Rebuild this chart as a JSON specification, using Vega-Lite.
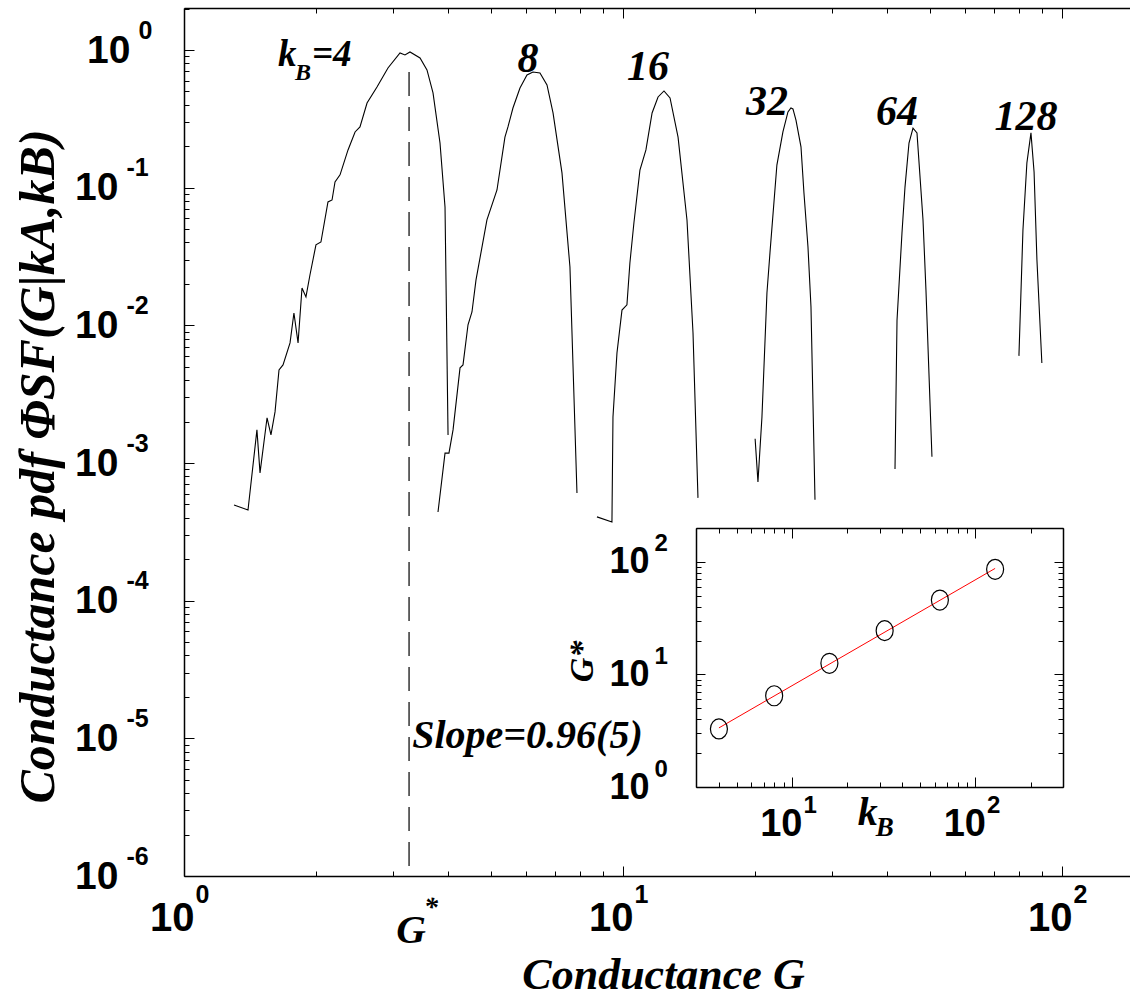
{
  "$schema": "https://vega.github.io/schema/vega-lite/v6.json",
  "width": 946,
  "height": 868,
  "autosize": {"type": "none"},
  "padding": {"left": 184, "top": 8, "right": 0, "bottom": 124},
  "background": "white",
  "config": {"view": {"stroke": null}, "axis": {"grid": false}},
  "layer": [
    {
      "resolve": {"axis": {"x": "independent", "y": "independent"}},
      "layer": [
        {
          "data": {"values": [
            {"k":4,"G":1.300,"P":0.000496},{"k":4,"G":1.399,"P":0.000456},{"k":4,"G":1.466,"P":0.00174},{"k":4,"G":1.490,"P":0.000848},
            {"k":4,"G":1.546,"P":0.00213},{"k":4,"G":1.578,"P":0.00160},{"k":4,"G":1.612,"P":0.00235},{"k":4,"G":1.646,"P":0.00474},
            {"k":4,"G":1.681,"P":0.00516},{"k":4,"G":1.744,"P":0.00745},{"k":4,"G":1.780,"P":0.0123},{"k":4,"G":1.819,"P":0.00745},
            {"k":4,"G":1.857,"P":0.0187},{"k":4,"G":1.896,"P":0.0161},{"k":4,"G":1.936,"P":0.0232},{"k":4,"G":1.998,"P":0.0384},
            {"k":4,"G":2.051,"P":0.0403},{"k":4,"G":2.128,"P":0.0787},{"k":4,"G":2.174,"P":0.0814},{"k":4,"G":2.208,"P":0.110},
            {"k":4,"G":2.267,"P":0.124},{"k":4,"G":2.364,"P":0.188},{"k":4,"G":2.453,"P":0.254},{"k":4,"G":2.517,"P":0.276},
            {"k":4,"G":2.612,"P":0.412},{"k":4,"G":2.752,"P":0.539},{"k":4,"G":2.915,"P":0.740},{"k":4,"G":3.105,"P":0.951},
            {"k":4,"G":3.187,"P":0.920},{"k":4,"G":3.272,"P":0.967},{"k":4,"G":3.449,"P":0.875},{"k":4,"G":3.577,"P":0.716},
            {"k":4,"G":3.692,"P":0.488},{"k":4,"G":3.830,"P":0.211},{"k":4,"G":3.932,"P":0.0724},{"k":4,"G":3.995,"P":0.00160},
            {"k":8,"G":3.790,"P":0.000441},{"k":8,"G":3.932,"P":0.00118},{"k":8,"G":4.014,"P":0.00118},{"k":8,"G":4.101,"P":0.00174},
            {"k":8,"G":4.254,"P":0.00491},{"k":8,"G":4.321,"P":0.00516},{"k":8,"G":4.436,"P":0.0101},{"k":8,"G":4.529,"P":0.0125},
            {"k":8,"G":4.626,"P":0.0214},{"k":8,"G":4.899,"P":0.0583},{"k":8,"G":5.164,"P":0.0962},{"k":8,"G":5.384,"P":0.233},
            {"k":8,"G":5.470,"P":0.276},{"k":8,"G":5.615,"P":0.379},{"k":8,"G":5.826,"P":0.530},{"k":8,"G":6.044,"P":0.658},
            {"k":8,"G":6.237,"P":0.692},{"k":8,"G":6.470,"P":0.681},{"k":8,"G":6.713,"P":0.557},{"k":8,"G":6.929,"P":0.349},
            {"k":8,"G":7.262,"P":0.128},{"k":8,"G":7.572,"P":0.0265},{"k":8,"G":7.856,"P":0.000606},
            {"k":16,"G":8.724,"P":0.000406},{"k":16,"G":9.438,"P":0.000373},{"k":16,"G":9.489,"P":0.00216},{"k":16,"G":9.690,"P":0.00630},
            {"k":16,"G":9.948,"P":0.0129},{"k":16,"G":10.21,"P":0.0141},{"k":16,"G":10.37,"P":0.0284},{"k":16,"G":10.59,"P":0.0554},
            {"k":16,"G":10.93,"P":0.134},{"k":16,"G":11.28,"P":0.188},{"k":16,"G":11.65,"P":0.349},{"k":16,"G":12.02,"P":0.456},
            {"k":16,"G":12.40,"P":0.504},{"k":16,"G":12.80,"P":0.448},{"k":16,"G":13.35,"P":0.233},{"k":16,"G":13.99,"P":0.0583},
            {"k":16,"G":14.44,"P":0.00881},{"k":16,"G":14.82,"P":0.000558},
            {"k":32,"G":20.00,"P":0.00150},{"k":32,"G":20.30,"P":0.000729},{"k":32,"G":20.73,"P":0.00216},{"k":32,"G":21.28,"P":0.0172},
            {"k":32,"G":21.62,"P":0.0336},{"k":32,"G":22.42,"P":0.146},{"k":32,"G":23.14,"P":0.254},{"k":32,"G":23.76,"P":0.355},
            {"k":32,"G":24.13,"P":0.379},{"k":32,"G":24.39,"P":0.373},{"k":32,"G":24.78,"P":0.310},{"k":32,"G":25.44,"P":0.198},
            {"k":32,"G":25.84,"P":0.0915},{"k":32,"G":26.39,"P":0.0371},{"k":32,"G":26.81,"P":0.0136},{"k":32,"G":27.38,"P":0.000540},
            {"k":64,"G":41.66,"P":0.000906},{"k":64,"G":42.10,"P":0.0109},{"k":64,"G":43.21,"P":0.0469},{"k":64,"G":43.90,"P":0.101},
            {"k":64,"G":44.83,"P":0.211},{"k":64,"G":45.78,"P":0.271},{"k":64,"G":46.75,"P":0.250},{"k":64,"G":48.25,"P":0.0583},
            {"k":64,"G":49.00,"P":0.0181},{"k":64,"G":50.57,"P":0.00111},
            {"k":128,"G":79.8,"P":0.00600},{"k":128,"G":81.5,"P":0.0493},{"k":128,"G":83.2,"P":0.151},{"k":128,"G":85.0,"P":0.250},
            {"k":128,"G":86.4,"P":0.130},{"k":128,"G":87.7,"P":0.0299},{"k":128,"G":90.0,"P":0.00533}
          ]},
          "mark": {"type": "line", "color": "black", "strokeWidth": 1.1},
          "encoding": {
            "x": {"field": "G", "type": "quantitative",
                  "scale": {"type": "log", "domain": [1, 142.9], "nice": false},
                  "axis": {"orient": "bottom", "values": [1,2,3,4,5,6,7,8,9,10,20,30,40,50,60,70,80,90,100],
                           "labels": false, "ticks": true, "domain": true, "grid": false, "title": null,
                           "tickSize": {"condition": {"test": "abs(log(datum.value)/LN10 - round(log(datum.value)/LN10)) < 0.01", "value": -10}, "value": -5},
                           "tickColor": "black", "tickWidth": 1, "domainColor": "black", "domainWidth": 1.5}},
            "y": {"field": "P", "type": "quantitative",
                  "scale": {"type": "log", "domain": [0.000001, 2.019], "nice": false},
                  "axis": {"orient": "left",
                           "values": [1e-6,2e-6,3e-6,4e-6,5e-6,6e-6,7e-6,8e-6,9e-6,1e-5,2e-5,3e-5,4e-5,5e-5,6e-5,7e-5,8e-5,9e-5,1e-4,2e-4,3e-4,4e-4,5e-4,6e-4,7e-4,8e-4,9e-4,0.001,0.002,0.003,0.004,0.005,0.006,0.007,0.008,0.009,0.01,0.02,0.03,0.04,0.05,0.06,0.07,0.08,0.09,0.1,0.2,0.3,0.4,0.5,0.6,0.7,0.8,0.9,1,2],
                           "labels": false, "ticks": true, "domain": true, "grid": false, "title": null,
                           "tickSize": {"condition": {"test": "abs(log(datum.value)/LN10 - round(log(datum.value)/LN10)) < 0.01", "value": -10}, "value": -5},
                           "tickColor": "black", "tickWidth": 1, "domainColor": "black", "domainWidth": 1.5}},
            "detail": {"field": "k", "type": "nominal"}
          }
        },
        {
          "data": {"values": [{"G": 3.256, "Ptop": 0.692, "Pbot": 0.000001}]},
          "mark": {"type": "rule", "color": "black", "strokeWidth": 1.2, "strokeDash": [24, 11]},
          "encoding": {
            "x": {"field": "G", "type": "quantitative",
                  "scale": {"type": "log", "domain": [1, 142.9], "nice": false},
                  "axis": {"orient": "top", "values": [1,2,3,4,5,6,7,8,9,10,20,30,40,50,60,70,80,90,100],
                           "labels": false, "ticks": true, "domain": true, "grid": false, "title": null,
                           "tickSize": {"condition": {"test": "abs(log(datum.value)/LN10 - round(log(datum.value)/LN10)) < 0.01", "value": -10}, "value": -5},
                           "tickColor": "black", "tickWidth": 1, "domainColor": "black", "domainWidth": 1.5}},
            "y": {"field": "Ptop", "type": "quantitative",
                  "scale": {"type": "log", "domain": [0.000001, 2.019], "nice": false},
                  "axis": {"orient": "left", "values": [1e-6,1e-5,1e-4,0.001,0.01,0.1,1],
                           "ticks": false, "domain": false, "grid": false, "labelExpr": "'10'",
                           "labelFont": "Liberation Sans, Arial, sans-serif", "labelFontWeight": "bold",
                           "labelFontSize": 39, "labelColor": "black", "labelAlign": "right", "labelBaseline": "middle",
                           "labelPadding": {"condition": {"test": "datum.value == 1", "value": 54}, "value": 66},
                           "labelFlush": false, "labelOverlap": false,
                           "title": "Conductance pdf ΦSF(G|kA,kB)",
                           "titleFont": "Liberation Serif, Times New Roman, serif", "titleFontStyle": "italic", "titleFontWeight": "bold",
                           "titleFontSize": 50, "titleColor": "black", "titleX": -131, "titleY": 458, "titleBaseline": "alphabetic", "titleAngle": 270}},
            "y2": {"field": "Pbot"}
          }
        },
        {
          "data": {"values": [
            {"G": 6.075, "P": 0.692, "label": "8"},
            {"G": 11.40, "P": 0.605, "label": "16"},
            {"G": 21.28, "P": 0.337, "label": "32"},
            {"G": 42.1, "P": 0.285, "label": "64"},
            {"G": 82.8, "P": 0.262, "label": "128"}
          ]},
          "mark": {"type": "text", "font": "Liberation Serif, Times New Roman, serif", "fontStyle": "italic", "fontWeight": "bold",
                   "fontSize": 42, "align": "center", "baseline": "alphabetic", "color": "black"},
          "encoding": {
            "x": {"field": "G", "type": "quantitative",
                  "scale": {"type": "log", "domain": [1, 142.9], "nice": false},
                  "axis": {"orient": "bottom", "values": [1,10,100],
                           "ticks": false, "domain": false, "grid": false, "labelExpr": "'10'",
                           "labelFont": "Liberation Sans, Arial, sans-serif", "labelFontWeight": "bold",
                           "labelFontSize": 40, "labelColor": "black", "labelAlign": "right", "labelBaseline": "alphabetic",
                           "labelOffset": 10, "labelPadding": 54, "labelFlush": false, "labelOverlap": false,
                           "title": "Conductance G",
                           "titleFont": "Liberation Serif, Times New Roman, serif", "titleFontStyle": "italic", "titleFontWeight": "bold",
                           "titleFontSize": 44, "titleColor": "black", "titleX": 479, "titleY": 112, "titleBaseline": "alphabetic", "titleAlign": "center"}},
            "y": {"field": "P", "type": "quantitative",
                  "scale": {"type": "log", "domain": [0.000001, 2.019], "nice": false},
                  "axis": {"orient": "left", "values": [1e-6,1e-5,1e-4,0.001,0.01,0.1,1],
                           "ticks": false, "domain": false, "grid": false,
                           "labelExpr": "'' + round(log(datum.value)/LN10)",
                           "labelFont": "Liberation Sans, Arial, sans-serif", "labelFontWeight": "bold",
                           "labelFontSize": 25, "labelColor": "black", "labelAlign": "left", "labelBaseline": "middle",
                           "labelOffset": -20,
                           "labelPadding": {"condition": {"test": "datum.value == 1", "value": 46}, "value": 58},
                           "labelFlush": false, "labelOverlap": false, "title": null}},
            "text": {"field": "label", "type": "nominal"}
          }
        },
        {
          "data": {"values": [{"G": 1.637, "P": 0.765, "label": "k"}]},
          "mark": {"type": "text", "font": "Liberation Serif, Times New Roman, serif", "fontStyle": "italic", "fontWeight": "bold",
                   "fontSize": 37, "align": "left", "baseline": "alphabetic", "color": "black"},
          "encoding": {
            "x": {"field": "G", "type": "quantitative",
                  "scale": {"type": "log", "domain": [1, 142.9], "nice": false},
                  "axis": {"orient": "bottom", "values": [1,10,100],
                           "ticks": false, "domain": false, "grid": false,
                           "labelExpr": "'' + round(log(datum.value)/LN10)",
                           "labelFont": "Liberation Sans, Arial, sans-serif", "labelFontWeight": "bold",
                           "labelFontSize": 25, "labelColor": "black", "labelAlign": "left", "labelBaseline": "alphabetic",
                           "labelOffset": 11, "labelPadding": 26, "labelFlush": false, "labelOverlap": false, "title": null}},
            "y": {"field": "P", "type": "quantitative", "scale": {"type": "log", "domain": [0.000001, 2.019], "nice": false}, "axis": null},
            "text": {"field": "label", "type": "nominal"}
          }
        },
        {
          "data": {"values": [{"G": 1.637, "P": 0.765, "label": "B"}]},
          "mark": {"type": "text", "font": "Liberation Serif, Times New Roman, serif", "fontStyle": "italic", "fontWeight": "bold",
                   "fontSize": 24, "align": "left", "baseline": "alphabetic", "color": "black", "dx": 17, "dy": 14},
          "encoding": {
            "x": {"field": "G", "type": "quantitative", "scale": {"type": "log", "domain": [1, 142.9], "nice": false}, "axis": null},
            "y": {"field": "P", "type": "quantitative", "scale": {"type": "log", "domain": [0.000001, 2.019], "nice": false}, "axis": null},
            "text": {"field": "label", "type": "nominal"}
          }
        },
        {
          "data": {"values": [{"G": 1.637, "P": 0.765, "label": "=4"}]},
          "mark": {"type": "text", "font": "Liberation Serif, Times New Roman, serif", "fontStyle": "italic", "fontWeight": "bold",
                   "fontSize": 37, "align": "left", "baseline": "alphabetic", "color": "black", "dx": 34},
          "encoding": {
            "x": {"field": "G", "type": "quantitative", "scale": {"type": "log", "domain": [1, 142.9], "nice": false}, "axis": null},
            "y": {"field": "P", "type": "quantitative", "scale": {"type": "log", "domain": [0.000001, 2.019], "nice": false}, "axis": null},
            "text": {"field": "label", "type": "nominal"}
          }
        },
        {
          "data": {"values": [{"G": 3.31, "P": 0.00000853, "label": "Slope=0.96(5)"}]},
          "mark": {"type": "text", "font": "Liberation Serif, Times New Roman, serif", "fontStyle": "italic", "fontWeight": "bold",
                   "fontSize": 40, "align": "left", "baseline": "alphabetic", "color": "black"},
          "encoding": {
            "x": {"field": "G", "type": "quantitative", "scale": {"type": "log", "domain": [1, 142.9], "nice": false}, "axis": null},
            "y": {"field": "P", "type": "quantitative", "scale": {"type": "log", "domain": [0.000001, 2.019], "nice": false}, "axis": null},
            "text": {"field": "label", "type": "nominal"}
          }
        },
        {
          "data": {"values": [{"G": 3.256, "P": 0.000001, "label": "G"}]},
          "mark": {"type": "text", "font": "Liberation Serif, Times New Roman, serif", "fontStyle": "italic", "fontWeight": "bold",
                   "fontSize": 41, "align": "center", "baseline": "alphabetic", "color": "black", "dx": 2, "dy": 67},
          "encoding": {
            "x": {"field": "G", "type": "quantitative", "scale": {"type": "log", "domain": [1, 142.9], "nice": false}, "axis": null},
            "y": {"field": "P", "type": "quantitative", "scale": {"type": "log", "domain": [0.000001, 2.019], "nice": false}, "axis": null},
            "text": {"field": "label", "type": "nominal"}
          }
        },
        {
          "data": {"values": [{"G": 3.256, "P": 0.000001, "label": "*"}]},
          "mark": {"type": "text", "font": "Liberation Serif, Times New Roman, serif", "fontStyle": "italic", "fontWeight": "bold",
                   "fontSize": 28, "align": "center", "baseline": "alphabetic", "color": "black", "dx": 22, "dy": 40},
          "encoding": {
            "x": {"field": "G", "type": "quantitative", "scale": {"type": "log", "domain": [1, 142.9], "nice": false}, "axis": null},
            "y": {"field": "P", "type": "quantitative", "scale": {"type": "log", "domain": [0.000001, 2.019], "nice": false}, "axis": null},
            "text": {"field": "label", "type": "nominal"}
          }
        }
      ]
    },
    {
      "resolve": {"axis": {"x": "independent", "y": "independent"}},
      "layer": [
        {
          "data": {"values": [{"kB": 4, "Gs": 3.35}, {"kB": 128, "Gs": 87.5}]},
          "mark": {"type": "line", "color": "#ff0000", "strokeWidth": 1},
          "encoding": {
            "x": {"field": "kB", "type": "quantitative",
                  "scale": {"type": "log", "domain": [3, 300], "range": [512, 879], "nice": false},
                  "axis": {"orient": "bottom", "offset": -89, "values": [3,4,5,6,7,8,9,10,20,30,40,50,60,70,80,90,100,200,300],
                           "labels": false, "ticks": true, "domain": true, "grid": false, "title": null,
                           "tickSize": {"condition": {"test": "abs(log(datum.value)/LN10 - round(log(datum.value)/LN10)) < 0.01", "value": -10}, "value": -5},
                           "tickColor": "black", "tickWidth": 1, "domainColor": "black", "domainWidth": 1.5}},
            "y": {"field": "Gs", "type": "quantitative",
                  "scale": {"type": "log", "domain": [1, 200], "range": [779, 520], "nice": false},
                  "axis": {"orient": "left", "offset": -512, "values": [1,2,3,4,5,6,7,8,9,10,20,30,40,50,60,70,80,90,100,200],
                           "labels": false, "ticks": true, "domain": true, "grid": false, "title": null,
                           "tickSize": {"condition": {"test": "abs(log(datum.value)/LN10 - round(log(datum.value)/LN10)) < 0.01", "value": -9}, "value": -5},
                           "tickColor": "black", "tickWidth": 1, "domainColor": "black", "domainWidth": 1.5}}
          }
        },
        {
          "data": {"values": [
            {"kB": 4, "Gs": 3.28}, {"kB": 8, "Gs": 6.47}, {"kB": 16, "Gs": 12.56},
            {"kB": 32, "Gs": 24.5}, {"kB": 64, "Gs": 45.8}, {"kB": 128, "Gs": 85.9}
          ]},
          "mark": {"type": "point", "shape": "M -0.85 0 A 0.85 1 0 1 0 0.85 0 A 0.85 1 0 1 0 -0.85 0 Z",
                   "size": 400, "filled": false, "stroke": "black", "strokeWidth": 1.2, "opacity": 1},
          "encoding": {
            "x": {"field": "kB", "type": "quantitative",
                  "scale": {"type": "log", "domain": [3, 300], "range": [512, 879], "nice": false},
                  "axis": {"orient": "top", "offset": -520, "values": [3,4,5,6,7,8,9,10,20,30,40,50,60,70,80,90,100,200,300],
                           "labels": false, "ticks": true, "domain": true, "grid": false, "title": null,
                           "tickSize": {"condition": {"test": "abs(log(datum.value)/LN10 - round(log(datum.value)/LN10)) < 0.01", "value": -10}, "value": -5},
                           "tickColor": "black", "tickWidth": 1, "domainColor": "black", "domainWidth": 1.5}},
            "y": {"field": "Gs", "type": "quantitative",
                  "scale": {"type": "log", "domain": [1, 200], "range": [779, 520], "nice": false},
                  "axis": {"orient": "right", "offset": -67, "values": [1,2,3,4,5,6,7,8,9,10,20,30,40,50,60,70,80,90,100,200],
                           "labels": false, "ticks": true, "domain": true, "grid": false, "title": null,
                           "tickSize": {"condition": {"test": "abs(log(datum.value)/LN10 - round(log(datum.value)/LN10)) < 0.01", "value": -9}, "value": -5},
                           "tickColor": "black", "tickWidth": 1, "domainColor": "black", "domainWidth": 1.5}}
          }
        },
        {
          "data": {"values": [{"kB": 22.84, "Gs": 1, "label": "k"}]},
          "mark": {"type": "text", "font": "Liberation Serif, Times New Roman, serif", "fontStyle": "italic", "fontWeight": "bold",
                   "fontSize": 40, "align": "left", "baseline": "alphabetic", "color": "black", "dy": 38},
          "encoding": {
            "x": {"field": "kB", "type": "quantitative",
                  "scale": {"type": "log", "domain": [3, 300], "range": [512, 879], "nice": false},
                  "axis": {"orient": "bottom", "offset": -89, "values": [10, 100],
                           "ticks": false, "domain": false, "grid": false, "labelExpr": "'10'",
                           "labelFont": "Liberation Sans, Arial, sans-serif", "labelFontWeight": "bold",
                           "labelFontSize": 38, "labelColor": "black", "labelAlign": "right", "labelBaseline": "alphabetic",
                           "labelOffset": 10, "labelPadding": 48, "labelFlush": false, "labelOverlap": false, "title": null}},
            "y": {"field": "Gs", "type": "quantitative",
                  "scale": {"type": "log", "domain": [1, 200], "range": [779, 520], "nice": false},
                  "axis": {"orient": "left", "offset": -512, "values": [1, 10, 100],
                           "ticks": false, "domain": false, "grid": false, "labelExpr": "'10'",
                           "labelFont": "Liberation Sans, Arial, sans-serif", "labelFontWeight": "bold",
                           "labelFontSize": 36, "labelColor": "black", "labelAlign": "right", "labelBaseline": "middle",
                           "labelPadding": 47, "labelFlush": false, "labelOverlap": false,
                           "title": "G*",
                           "titleFont": "Liberation Serif, Times New Roman, serif", "titleFontStyle": "italic", "titleFontWeight": "bold",
                           "titleFontSize": 34, "titleColor": "black", "titleX": -104, "titleY": 653, "titleBaseline": "alphabetic", "titleAngle": 270}},
            "text": {"field": "label", "type": "nominal"}
          }
        },
        {
          "data": {"values": [{"kB": 22.84, "Gs": 1, "label": "B"}]},
          "mark": {"type": "text", "font": "Liberation Serif, Times New Roman, serif", "fontStyle": "italic", "fontWeight": "bold",
                   "fontSize": 27, "align": "left", "baseline": "alphabetic", "color": "black", "dx": 18, "dy": 49},
          "encoding": {
            "x": {"field": "kB", "type": "quantitative",
                  "scale": {"type": "log", "domain": [3, 300], "range": [512, 879], "nice": false},
                  "axis": {"orient": "bottom", "offset": -89, "values": [10, 100],
                           "ticks": false, "domain": false, "grid": false,
                           "labelExpr": "'' + round(log(datum.value)/LN10)",
                           "labelFont": "Liberation Sans, Arial, sans-serif", "labelFontWeight": "bold",
                           "labelFontSize": 24, "labelColor": "black", "labelAlign": "left", "labelBaseline": "alphabetic",
                           "labelOffset": 11, "labelPadding": 25, "labelFlush": false, "labelOverlap": false, "title": null}},
            "y": {"field": "Gs", "type": "quantitative",
                  "scale": {"type": "log", "domain": [1, 200], "range": [779, 520], "nice": false},
                  "axis": {"orient": "left", "offset": -512, "values": [1, 10, 100],
                           "ticks": false, "domain": false, "grid": false,
                           "labelExpr": "'' + round(log(datum.value)/LN10)",
                           "labelFont": "Liberation Sans, Arial, sans-serif", "labelFontWeight": "bold",
                           "labelFontSize": 24, "labelColor": "black", "labelAlign": "left", "labelBaseline": "middle",
                           "labelOffset": -18, "labelPadding": 42, "labelFlush": false, "labelOverlap": false, "title": null}},
            "text": {"field": "label", "type": "nominal"}
          }
        }
      ]
    }
  ],
  "resolve": {"scale": {"x": "independent", "y": "independent"}}
}
